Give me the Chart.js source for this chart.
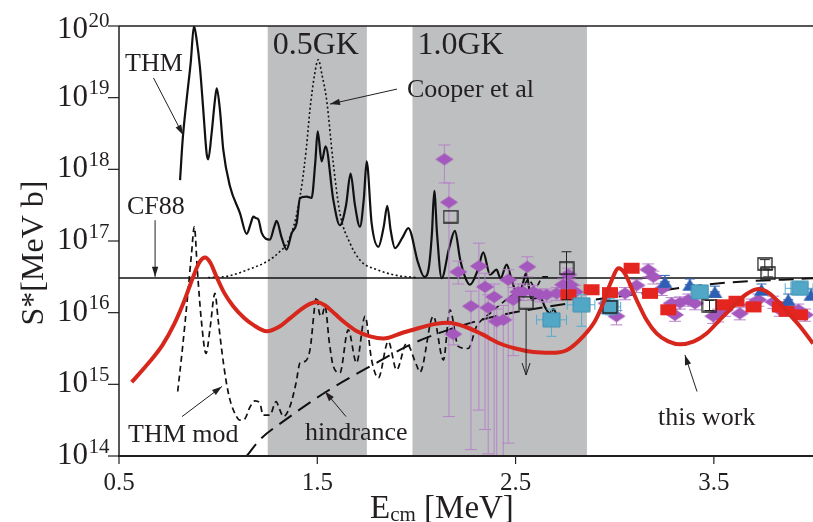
<!DOCTYPE html>
<html>
<head>
<meta charset="utf-8">
<script src="https://cdn.jsdelivr.net/npm/chart.js@4.4.1/dist/chart.umd.min.js"></script>
<style>
  html, body { margin: 0; padding: 0; background: #fff; }
</style>
</head>
<body>
<canvas id="sfactor" width="813" height="522"></canvas>
<script>
'use strict';

// Achsen: Energie [MeV], S* in Dekaden
const xTicks = [0.5, 1.5, 2.5, 3.5];
const yTickExp = [14, 15, 16, 17, 18, 19, 20];

// Temperaturfenster
const bandLabels = ['0.5GK', '1.0GK'];
const bandFrom = [1.25, 1.98];
const bandTo = [1.75, 2.86];

// Kurven: Energie und log10(S*)
const thmE = [0.808, 0.821, 0.841, 0.862, 0.878, 0.892, 0.908, 0.925, 0.942, 0.95, 0.967, 0.984, 0.993, 1.009, 1.026, 1.06, 1.11, 1.144, 1.165, 1.177, 1.19, 1.203, 1.22, 1.261, 1.283, 1.295, 1.32, 1.345, 1.371, 1.396, 1.413, 1.447, 1.471, 1.49, 1.502, 1.522, 1.542, 1.581, 1.614, 1.645, 1.668, 1.69, 1.715, 1.735, 1.749, 1.774, 1.808, 1.835, 1.853, 1.87, 1.892, 1.93, 1.959, 2.009, 2.04, 2.062, 2.078, 2.09, 2.104, 2.127, 2.165, 2.194, 2.22, 2.245, 2.27, 2.31, 2.337, 2.371, 2.404, 2.424, 2.455, 2.48, 2.514, 2.538, 2.553, 2.581, 2.623, 2.648, 2.673, 2.69, 2.71];
const thmS = [17.85, 18.41, 18.97, 19.5, 20.0, 19.8, 19.43, 18.83, 18.22, 18.14, 18.5, 18.97, 19.13, 18.83, 18.27, 17.76, 17.39, 17.1, 17.25, 17.34, 17.32, 17.3, 17.11, 17.02, 17.2, 17.28, 17.05, 16.88, 17.11, 17.25, 17.6, 17.62, 17.6, 18.1, 18.53, 18.11, 18.32, 17.57, 17.22, 17.5, 17.94, 17.5, 17.2, 17.6, 18.11, 17.25, 16.92, 17.2, 17.49, 17.15, 16.9, 17.05, 17.18, 16.69, 16.5, 16.62, 17.1, 17.7, 17.1, 16.48, 16.9, 17.14, 16.75, 16.5, 16.39, 16.6, 16.84, 16.53, 16.6, 16.48, 16.67, 16.46, 16.22, 16.42, 16.55, 16.18, 16.22, 16.08, 15.99, 16.05, 15.95];

const cooperE = [0.95, 1.05, 1.15, 1.25, 1.31, 1.35, 1.39, 1.421, 1.445, 1.463, 1.485, 1.505, 1.525, 1.547, 1.58, 1.614, 1.665, 1.72, 1.8, 1.9, 2.0];
const cooperS = [16.49, 16.51, 16.6, 16.72, 16.85, 16.98, 17.3, 17.76, 18.3, 18.83, 19.3, 19.53, 19.3, 18.97, 18.1, 17.39, 16.97, 16.72, 16.6, 16.52, 16.49];

const cf88E = [0.5, 4.0];
const cf88S = [16.485, 16.485];

const workE = [0.564, 0.65, 0.72, 0.78, 0.83, 0.87, 0.905, 0.934, 0.96, 0.992, 1.03, 1.076, 1.13, 1.177, 1.245, 1.312, 1.362, 1.42, 1.46, 1.496, 1.54, 1.59, 1.631, 1.7, 1.766, 1.833, 1.93, 2.018, 2.09, 2.16, 2.25, 2.33, 2.421, 2.5, 2.59, 2.68, 2.76, 2.841, 2.9, 2.942, 2.98, 3.02, 3.05, 3.11, 3.16, 3.211, 3.27, 3.329, 3.4, 3.463, 3.53, 3.598, 3.66, 3.724, 3.78, 3.833, 3.88, 3.934, 4.0];
const workS = [15.03, 15.3, 15.55, 15.85, 16.17, 16.47, 16.7, 16.77, 16.7, 16.5, 16.28, 16.09, 15.93, 15.83, 15.74, 15.81, 15.92, 16.05, 16.12, 16.15, 16.1, 15.98, 15.88, 15.74, 15.67, 15.64, 15.72, 15.79, 15.84, 15.86, 15.8, 15.7, 15.57, 15.5, 15.45, 15.44, 15.48, 15.67, 15.88, 16.13, 16.42, 16.62, 16.55, 16.18, 15.9, 15.71, 15.6, 15.56, 15.6, 15.71, 15.9, 16.09, 16.25, 16.33, 16.27, 16.13, 15.98, 15.81, 15.57];

const thmModE = [0.796, 0.82, 0.845, 0.865, 0.88, 0.895, 0.915, 0.939, 0.96, 0.984, 1.0, 1.018, 1.04, 1.06, 1.093, 1.11, 1.135, 1.16, 1.186, 1.21, 1.227, 1.261, 1.292, 1.31, 1.329, 1.362, 1.393, 1.413, 1.438, 1.463, 1.497, 1.51, 1.522, 1.539, 1.56, 1.581, 1.614, 1.656, 1.698, 1.741, 1.774, 1.808, 1.858, 1.9, 1.95, 2.0, 2.018, 2.085, 2.136, 2.169, 2.211, 2.261, 2.303, 2.33, 2.371, 2.421, 2.488, 2.53, 2.564, 2.6, 2.64, 2.67];
const thmModS = [14.9, 15.5, 16.2, 16.8, 17.2, 16.6, 15.9, 15.43, 15.8, 16.27, 15.9, 15.48, 15.05, 14.78, 14.55, 14.5, 14.52, 14.68, 14.77, 14.74, 14.57, 14.57, 14.76, 14.65, 14.55, 14.69, 15.02, 15.3, 15.32, 15.48, 16.22, 16.0, 15.95, 16.09, 15.6, 15.25, 15.16, 15.76, 15.3, 15.95, 15.34, 15.09, 15.6, 15.2, 15.57, 15.27, 15.17, 15.95, 15.34, 16.04, 15.53, 15.5, 15.81, 15.9, 15.99, 16.11, 16.25, 16.3, 16.46, 16.35, 16.5, 16.5];

const hindE = [1.144, 1.211, 1.337, 1.547, 1.766, 1.967, 2.15, 2.4, 2.7, 3.085, 3.53, 4.0];
const hindS = [14.0, 14.23, 14.5, 14.9, 15.25, 15.55, 15.75, 15.95, 16.1, 16.25, 16.41, 16.48];

// Messpunkte: Energie, log10(S*), Fehlergrenzen
const purpleE = [2.141, 2.164, 2.186, 2.211, 2.275, 2.315, 2.346, 2.362, 2.392, 2.405, 2.438, 2.463, 2.488, 2.514, 2.539, 2.559, 2.589, 2.623, 2.656, 2.707, 2.74, 2.766, 2.775, 2.8, 2.959, 3.009, 3.052, 3.11, 3.169, 3.195, 3.237, 3.287, 3.304, 3.329, 3.371, 3.405, 3.497, 3.522, 3.556, 3.631, 3.69, 3.724, 3.8, 3.833, 3.867, 3.926, 3.96];
const purpleS = [18.14, 17.54, 15.70, 16.57, 16.09, 16.65, 16.36, 16.07, 16.22, 15.88, 15.90, 16.46, 16.18, 16.29, 16.29, 16.64, 16.29, 16.25, 16.25, 16.27, 16.39, 16.53, 16.39, 16.29, 16.13, 15.95, 16.27, 16.38, 16.60, 16.50, 16.33, 16.13, 15.97, 16.14, 16.18, 16.13, 15.95, 15.97, 16.04, 15.99, 16.11, 16.18, 16.15, 16.04, 16.04, 16.04, 15.97];
const purpleLo = [17.81, 14.55, 15.55, 16.40, 14.09, 14.64, 14.37, 14.03, 14.00, 14.00, 14.00, 14.18, 15.40, 16.17, 16.17, 16.50, 16.18, 16.15, 16.15, 16.17, 16.30, 16.44, 16.30, 16.20, 16.04, 15.83, 16.18, 16.28, 16.50, 16.40, 16.24, 16.04, 15.88, 16.05, 16.09, 16.04, 15.85, 15.87, 15.95, 15.90, 16.02, 16.09, 16.06, 15.95, 15.95, 15.95, 15.88];
const purpleHi = [18.34, 17.81, 15.85, 16.72, 16.30, 16.97, 16.55, 16.25, 16.40, 16.05, 16.10, 16.60, 16.35, 16.40, 16.40, 16.78, 16.38, 16.33, 16.33, 16.35, 16.47, 16.62, 16.47, 16.38, 16.21, 16.03, 16.35, 16.46, 16.68, 16.58, 16.41, 16.21, 16.05, 16.22, 16.26, 16.21, 16.03, 16.05, 16.12, 16.07, 16.19, 16.26, 16.23, 16.12, 16.12, 16.12, 16.05];

const redE = [2.766, 2.883, 2.976, 3.085, 3.178, 3.27, 3.547, 3.614, 3.70, 3.833, 3.867, 3.934];
const redS = [16.25, 16.32, 16.28, 16.62, 16.27, 16.04, 16.11, 16.16, 16.08, 16.08, 16.02, 15.97];

const blueE = [3.253, 3.379, 3.505, 3.74, 3.875, 3.99];
const blueS = [16.43, 16.39, 16.29, 16.32, 16.18, 16.25];
const blueLo = [16.43, 16.39, 16.29, 16.32, 16.18, 16.25];
const blueHi = [16.52, 16.47, 16.37, 16.40, 16.26, 16.33];

const cyanE = [2.681, 2.833, 2.976, 3.43, 3.934];
const cyanS = [15.90, 16.11, 16.08, 16.29, 16.34];
const cyanLo = [15.67, 15.81, 15.97, 16.20, 16.25];
const cyanHi = [16.05, 16.25, 16.20, 16.38, 16.43];
const cyanXLo = [2.606, 2.76, 2.93, 3.39, 3.86];
const cyanXHi = [2.757, 2.90, 3.03, 3.47, 4.0];

const openE = [2.172, 2.553, 2.757, 2.976, 3.478, 3.757, 3.774];
const openS = [17.34, 16.14, 16.62, 16.08, 16.10, 16.68, 16.55];
const openLo = [17.34, 16.14, 16.18, 16.08, 16.03, 16.62, 16.50];
const openHi = [17.34, 16.14, 16.85, 16.08, 16.17, 16.74, 16.60];

// obere Grenze (Pfeil nach unten)
const limitE = [2.553];
const limitTop = [16.06];
const limitBottom = [15.13];

// Beschriftungen und Pfeile [E1, logS1, E2, logS2]
const labels = [
  { text: 'THM', x: 125, y: 71, size: 26 },
  { text: 'CF88', x: 127, y: 214, size: 26 },
  { text: 'Cooper et al', x: 407, y: 97, size: 26 },
  { text: 'THM mod', x: 128, y: 442, size: 26 },
  { text: 'hindrance', x: 305, y: 440, size: 26 },
  { text: 'this work', x: 658, y: 425, size: 26 },
];
const arrows = [
  [0.674, 19.275, 0.823, 18.48],
  [0.682, 17.29, 0.682, 16.5],
  [1.902, 19.12, 1.564, 18.91],
  [0.818, 14.55, 1.019, 14.97],
  [1.645, 14.55, 1.539, 14.9],
  [3.415, 14.9, 3.354, 15.41],
];

const SERIF = "'Liberation Serif', 'Times New Roman', serif";
const INK = '#231f20';

const toPts = (xs, ys) => xs.map((x, i) => ({ x, y: Math.pow(10, ys[i]) }));

function marker(shape, w, h, fill, stroke, lw) {
  const c = document.createElement('canvas');
  c.width = w + 2;
  c.height = h + 2;
  const g = c.getContext('2d');
  g.translate(1, 1);
  g.beginPath();
  if (shape === 'diamond') {
    g.moveTo(w / 2, 0);
    g.lineTo(w, h / 2);
    g.lineTo(w / 2, h);
    g.lineTo(0, h / 2);
    g.closePath();
  } else if (shape === 'triangle') {
    g.moveTo(w / 2, 0);
    g.lineTo(w, h);
    g.lineTo(0, h);
    g.closePath();
  } else {
    g.rect(0, 0, w, h);
  }
  if (fill) {
    g.fillStyle = fill;
    g.fill();
  }
  if (stroke) {
    g.strokeStyle = stroke;
    g.lineWidth = lw || 1;
    g.stroke();
  }
  return c;
}

function arrow(ctx, x1, y1, x2, y2, head) {
  ctx.beginPath();
  ctx.moveTo(x1, y1);
  ctx.lineTo(x2, y2);
  ctx.stroke();
  const a = Math.atan2(y2 - y1, x2 - x1);
  const bx = x2 - head * Math.cos(a);
  const by = y2 - head * Math.sin(a);
  const w = head * 0.32;
  ctx.beginPath();
  ctx.moveTo(x2, y2);
  ctx.lineTo(bx + w * Math.sin(a), by - w * Math.cos(a));
  ctx.lineTo(bx - w * Math.sin(a), by + w * Math.cos(a));
  ctx.closePath();
  ctx.fill();
}

// Grau hinterlegte Temperaturbereiche
const bandPlugin = {
  id: 'bands',
  beforeDatasetsDraw(chart) {
    const { ctx, chartArea, scales } = chart;
    ctx.save();
    bandFrom.forEach((from, i) => {
      const x1 = scales.x.getPixelForValue(from);
      const x2 = scales.x.getPixelForValue(bandTo[i]);
      ctx.fillStyle = '#bdbfc1';
      ctx.fillRect(x1, chartArea.top, x2 - x1, chartArea.bottom - chartArea.top);
      ctx.fillStyle = INK;
      ctx.font = `32px ${SERIF}`;
      ctx.textAlign = 'left';
      ctx.textBaseline = 'alphabetic';
      ctx.fillText(bandLabels[i], x1 + 5, chartArea.top + 28);
    });
    ctx.restore();
  },
};

// Fehlerbalken direkt vor den zugehoerigen Punkten zeichnen
const errorBarPlugin = {
  id: 'errorBars',
  beforeDatasetDraw(chart, args) {
    const ds = chart.data.datasets[args.index];
    if (!ds.errY && !ds.errX) return;
    const { ctx, chartArea, scales } = chart;
    ctx.save();
    ctx.beginPath();
    ctx.rect(chartArea.left, chartArea.top - 2, chartArea.right - chartArea.left, chartArea.bottom - chartArea.top + 2);
    ctx.clip();
    ctx.strokeStyle = ds.errColor;
    ctx.lineWidth = 1;
    const cap = ds.errCap;
    ds.data.forEach((p, i) => {
      const px = scales.x.getPixelForValue(p.x);
      const py = scales.y.getPixelForValue(p.y);
      ctx.beginPath();
      if (ds.errY && ds.errY[i][0] !== ds.errY[i][1]) {
        const y1 = scales.y.getPixelForValue(Math.pow(10, ds.errY[i][0]));
        const y2 = scales.y.getPixelForValue(Math.pow(10, ds.errY[i][1]));
        ctx.moveTo(px, y1);
        ctx.lineTo(px, y2);
        ctx.moveTo(px - cap, y1);
        ctx.lineTo(px + cap, y1);
        ctx.moveTo(px - cap, y2);
        ctx.lineTo(px + cap, y2);
      }
      if (ds.errX) {
        const x1 = scales.x.getPixelForValue(ds.errX[i][0]);
        const x2 = scales.x.getPixelForValue(ds.errX[i][1]);
        ctx.moveTo(x1, py);
        ctx.lineTo(x2, py);
        ctx.moveTo(x1, py - cap);
        ctx.lineTo(x1, py + cap);
        ctx.moveTo(x2, py - cap);
        ctx.lineTo(x2, py + cap);
      }
      ctx.stroke();
    });
    ctx.restore();
  },
};

// Achsen, Ticks, Titel und Anmerkungen
const framePlugin = {
  id: 'frame',
  afterDraw(chart) {
    const { ctx, chartArea, scales } = chart;
    const { left, right, top, bottom } = chartArea;
    ctx.save();
    ctx.strokeStyle = INK;
    ctx.fillStyle = INK;

    // Pfeile und Texte
    ctx.lineWidth = 1;
    arrows.forEach(a => {
      arrow(
        ctx,
        scales.x.getPixelForValue(a[0]),
        scales.y.getPixelForValue(Math.pow(10, a[1])),
        scales.x.getPixelForValue(a[2]),
        scales.y.getPixelForValue(Math.pow(10, a[3])),
        10
      );
    });
    limitE.forEach((e, i) => {
      const x = scales.x.getPixelForValue(e);
      const y1 = scales.y.getPixelForValue(Math.pow(10, limitTop[i]));
      const y2 = scales.y.getPixelForValue(Math.pow(10, limitBottom[i]));
      ctx.beginPath();
      ctx.moveTo(x, y1);
      ctx.lineTo(x, y2);
      ctx.moveTo(x - 4, y2 - 12);
      ctx.lineTo(x, y2);
      ctx.lineTo(x + 4, y2 - 12);
      ctx.stroke();
    });
    ctx.textAlign = 'left';
    ctx.textBaseline = 'alphabetic';
    labels.forEach(l => {
      ctx.font = `${l.size}px ${SERIF}`;
      ctx.fillText(l.text, l.x, l.y);
    });

    // Rahmen
    ctx.lineWidth = 1.5;
    ctx.beginPath();
    ctx.moveTo(left, top);
    ctx.lineTo(right, top);
    ctx.moveTo(left, top);
    ctx.lineTo(left, bottom);
    ctx.stroke();
    ctx.lineWidth = 2;
    ctx.beginPath();
    ctx.moveTo(left - 1, bottom);
    ctx.lineTo(right, bottom);
    ctx.stroke();

    // y-Ticks 10^n
    ctx.lineWidth = 1.2;
    yTickExp.forEach(k => {
      const y = scales.y.getPixelForValue(Math.pow(10, k));
      ctx.beginPath();
      ctx.moveTo(left - 11, y);
      ctx.lineTo(left, y);
      ctx.stroke();
      const base = y + (k === 20 ? 12 : 8);
      ctx.font = `31px ${SERIF}`;
      ctx.textAlign = 'right';
      ctx.fillText('10', 88, base);
      ctx.font = `21px ${SERIF}`;
      ctx.textAlign = 'left';
      ctx.fillText(String(k), 88.5, base - 11.5);
    });

    // x-Ticks
    ctx.textAlign = 'center';
    ctx.font = `25px ${SERIF}`;
    xTicks.forEach(v => {
      const x = scales.x.getPixelForValue(v);
      ctx.beginPath();
      ctx.moveTo(x, bottom);
      ctx.lineTo(x, bottom + 8);
      ctx.stroke();
      ctx.fillText(v.toFixed(1), x, 490);
    });

    // x-Titel E_cm [MeV]
    ctx.textAlign = 'left';
    let x = 370;
    ctx.font = `33px ${SERIF}`;
    ctx.fillText('E', x, 518);
    x += ctx.measureText('E').width;
    ctx.font = `21px ${SERIF}`;
    ctx.fillText('cm', x, 521);
    x += ctx.measureText('cm').width;
    ctx.font = `33px ${SERIF}`;
    ctx.fillText(' [MeV]', x, 518);

    // y-Titel
    ctx.translate(43, 253);
    ctx.rotate(-Math.PI / 2);
    ctx.textAlign = 'center';
    ctx.font = `32px ${SERIF}`;
    ctx.fillText('S*[MeV b]', 0, 0);
    ctx.restore();
  },
};

const lineSet = (label, xs, ys, color, width, dash, order) => ({
  label,
  data: toPts(xs, ys),
  borderColor: color,
  borderWidth: width,
  borderDash: dash,
  pointRadius: 0,
  cubicInterpolationMode: 'monotone',
  fill: false,
  order,
});

const markerSet = (label, xs, ys, img, order, extra) =>
  Object.assign(
    {
      label,
      data: toPts(xs, ys),
      showLine: false,
      pointStyle: img,
      pointRadius: 7,
      order,
    },
    extra || {}
  );

const pairs = (a, b) => a.map((v, i) => [v, b[i]]);

new Chart(document.getElementById('sfactor'), {
  type: 'line',
  data: {
    datasets: [
      lineSet('this work', workE, workS, '#d7271d', 4, [], 0),
      markerSet('open', openE, openS, marker('rect', 14, 12, null, '#222', 1.3), 1, {
        errY: pairs(openLo, openHi), errColor: '#222', errCap: 5,
      }),
      markerSet('cyan', cyanE, cyanS, marker('rect', 17, 14, '#53a7c6', '#3f92b3', 1), 2, {
        errY: pairs(cyanLo, cyanHi), errX: pairs(cyanXLo, cyanXHi), errColor: '#56acd0', errCap: 5,
      }),
      markerSet('blue', blueE, blueS, marker('triangle', 15, 12, '#2f5fb4'), 3, {
        errY: pairs(blueLo, blueHi), errColor: '#2f5fb4', errCap: 5,
      }),
      markerSet('red', redE, redS, marker('rect', 16, 11, '#e52520'), 4),
      markerSet('purple', purpleE, purpleS, marker('diamond', 18, 12, '#a457bc'), 5, {
        errY: pairs(purpleLo, purpleHi), errColor: '#b784c8', errCap: 6,
      }),
      lineSet('THM', thmE, thmS, '#111', 2.2, [], 6),
      lineSet('THM mod', thmModE, thmModS, '#111', 1.7, [6, 4], 7),
      lineSet('Cooper et al', cooperE, cooperS, '#111', 1.6, [2, 2.5], 8),
      lineSet('hindrance', hindE, hindS, '#111', 2, [15, 8], 9),
      lineSet('CF88', cf88E, cf88S, '#111', 1.5, [], 10),
    ],
  },
  options: {
    responsive: false,
    animation: false,
    devicePixelRatio: 1,
    layout: { autoPadding: false, padding: { top: 26, right: 0, left: 0, bottom: 0 } },
    plugins: {
      legend: { display: false },
      tooltip: { enabled: false },
    },
    scales: {
      x: {
        type: 'linear',
        min: 0.5,
        max: 4.0,
        grid: { display: false },
        border: { display: false },
        ticks: { display: false },
        afterFit: scale => { scale.height = 66; },
      },
      y: {
        type: 'logarithmic',
        min: 1e14,
        max: 1e20,
        grid: { display: false },
        border: { display: false },
        ticks: { display: false },
        afterFit: scale => { scale.width = 119; },
      },
    },
  },
  plugins: [bandPlugin, errorBarPlugin, framePlugin],
});
</script>
</body>
</html>
